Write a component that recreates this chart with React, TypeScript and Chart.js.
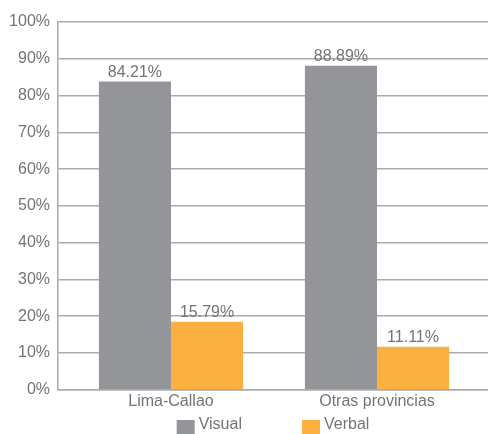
import React, { useEffect, useRef } from "react";
import { Chart, registerables } from "chart.js";

Chart.register(...registerables);

const categories = ["Lima-Callao", "Otras provincias"];
const seriesNames = ["Visual", "Verbal"];
const visualValues = [83.8, 88.1];
const verbalValues = [18.5, 11.7];
const visualLabels = ["84.21%", "88.89%"];
const verbalLabels = ["15.79%", "11.11%"];
const yTicks = [0, 10, 20, 30, 40, 50, 60, 70, 80, 90, 100];

const GRAY = "#939598";
const ORANGE = "#FBB040";
const TEXT = "#737477";
const GRID = "#a9abae";
const FONT = "'Liberation Sans', Arial, sans-serif";

const valueLabelPlugin = {
  id: "valueLabels",
  afterDatasetsDraw(chart: any) {
    const ctx = chart.ctx;
    const texts = [visualLabels, verbalLabels];
    ctx.save();
    ctx.font = `16px ${FONT}`;
    ctx.fillStyle = TEXT;
    ctx.textAlign = "center";
    ctx.textBaseline = "alphabetic";
    chart.data.datasets.forEach((ds: any, di: number) => {
      const meta = chart.getDatasetMeta(di);
      meta.data.forEach((bar: any, i: number) => {
        ctx.fillText(texts[di][i], bar.x, bar.y - 5);
      });
    });
    ctx.restore();
  },
};

const legendPlugin = {
  id: "customLegend",
  afterDraw(chart: any) {
    const ctx = chart.ctx;
    const area = chart.chartArea;
    ctx.save();
    ctx.font = `16px ${FONT}`;
    ctx.textBaseline = "middle";
    ctx.textAlign = "left";
    const boxW = 18;
    const boxH = 14;
    const gap = 4;
    const spacing = 60;
    const items = chart.data.datasets.map((ds: any) => ({
      text: ds.label,
      color: ds.backgroundColor,
      w: boxW + gap + ctx.measureText(ds.label).width,
    }));
    const total = items.reduce((s: number, it: any) => s + it.w, 0) + spacing * (items.length - 1);
    let x = (area.left + area.right) / 2 - total / 2;
    const boxTop = chart.height - 14;
    items.forEach((it: any) => {
      ctx.fillStyle = it.color;
      ctx.fillRect(x, boxTop, boxW, boxH);
      ctx.fillStyle = TEXT;
      ctx.fillText(it.text, x + boxW + gap, boxTop + 5);
      x += it.w + spacing;
    });
    ctx.restore();
  },
};

export default function App() {
  const canvasRef = useRef<HTMLCanvasElement | null>(null);

  useEffect(() => {
    document.body.style.margin = "0";
    const canvas = canvasRef.current;
    if (!canvas) return;
    const chart = new Chart(canvas, {
      type: "bar",
      data: {
        datasets: [
          {
            label: seriesNames[0],
            data: visualValues.map((v, i) => ({ x: i, y: v })),
            backgroundColor: GRAY,
            borderWidth: 0,
          },
          {
            label: seriesNames[1],
            data: verbalValues.map((v, i) => ({ x: i, y: v })),
            backgroundColor: ORANGE,
            borderWidth: 0,
          },
        ],
      },
      options: {
        animation: false,
        responsive: true,
        maintainAspectRatio: false,
        datasets: { bar: { categoryPercentage: 0.7, barPercentage: 1.0 } },
        layout: { padding: { left: 0, right: 0, top: 22, bottom: 21 } },
        plugins: {
          legend: { display: false },
          tooltip: { enabled: false },
          title: { display: false },
        },
        scales: {
          x: {
            type: "linear",
            min: -0.5485,
            max: 1.5388,
            offset: false,
            grid: { display: false, drawTicks: false },
            border: { display: true, color: GRID, width: 1.5 },
            afterBuildTicks: (scale: any) => {
              scale.ticks = categories.map((_, i) => ({ value: i }));
            },
            ticks: {
              padding: 2,
              color: TEXT,
              font: { family: FONT, size: 16 },
              callback: (v: any) => categories[Number(v)] ?? "",
            },
          },
          y: {
            min: 0,
            max: 100,
            afterBuildTicks: (scale: any) => {
              scale.ticks = yTicks.map((v) => ({ value: v }));
            },
            afterFit: (scale: any) => {
              scale.width = 58;
            },
            grid: { color: GRID, lineWidth: 1.5, drawTicks: false },
            border: { display: true, color: GRID, width: 1.5 },
            ticks: {
              padding: 8,
              color: TEXT,
              font: { family: FONT, size: 16 },
              callback: (v: any) => `${v}%`,
            },
          },
        },
      },
      plugins: [valueLabelPlugin, legendPlugin],
    });
    return () => chart.destroy();
  }, []);

  return (
    <div style={{ position: "relative", width: 488, height: 434 }}>
      <canvas ref={canvasRef} />
    </div>
  );
}
